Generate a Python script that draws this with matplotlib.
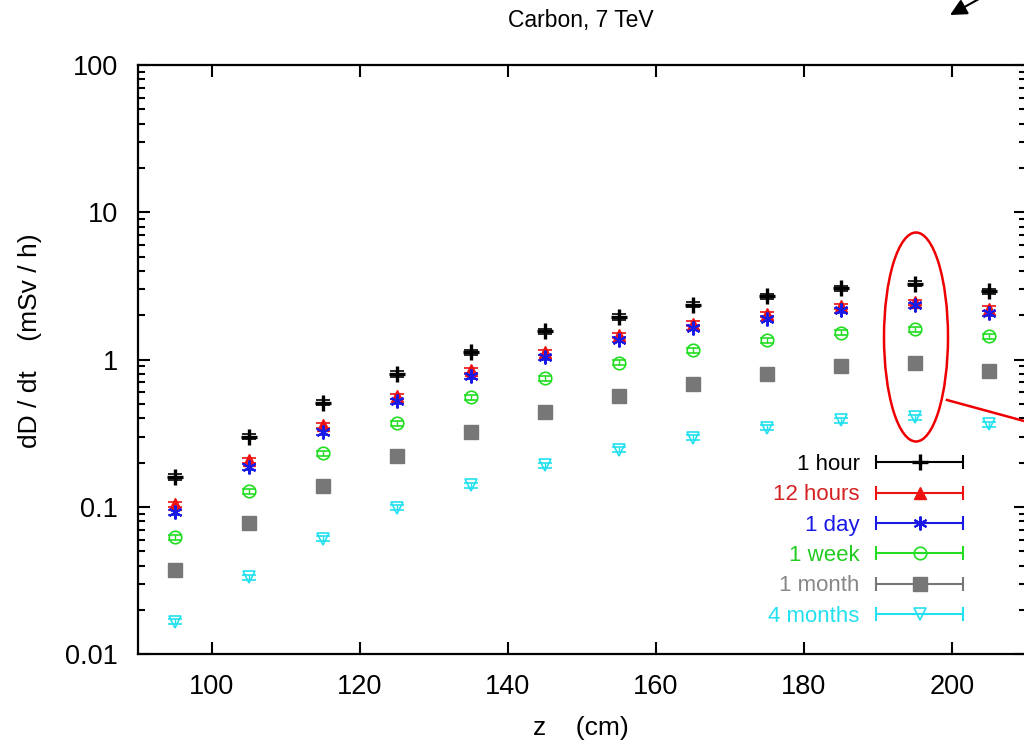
import matplotlib

matplotlib.use("Agg")
import matplotlib.pyplot as plt
import numpy as np
from matplotlib.collections import LineCollection
from matplotlib.container import ErrorbarContainer
from matplotlib.legend_handler import HandlerErrorbar
from matplotlib.lines import Line2D
from matplotlib.patches import Ellipse
from matplotlib.ticker import FixedFormatter, FixedLocator, LogLocator, NullFormatter

plt.rcParams["font.family"] = ["Liberation Sans", "DejaVu Sans"]

# z positions (cm)
z = [95, 105, 115, 125, 135, 145, 155, 165, 175, 185, 195, 205]

# dose rate (mSv/h) for each cooling time
hour_1 = [0.16, 0.30, 0.51, 0.80, 1.12, 1.56, 1.95, 2.36, 2.70, 3.06, 3.28, 2.91]
hours_12 = [0.104, 0.207, 0.358, 0.566, 0.85, 1.12, 1.46, 1.75, 2.03, 2.30, 2.46, 2.22]
day_1 = [0.092, 0.187, 0.323, 0.521, 0.77, 1.04, 1.37, 1.65, 1.90, 2.16, 2.34, 2.07]
week_1 = [0.0625, 0.128, 0.232, 0.371, 0.555, 0.746, 0.954, 1.157, 1.35, 1.52, 1.61, 1.44]
month_1 = [0.0375, 0.0778, 0.139, 0.222, 0.321, 0.438, 0.566, 0.68, 0.795, 0.905, 0.948, 0.837]
months_4 = [0.0166, 0.0334, 0.061, 0.099, 0.140, 0.192, 0.245, 0.295, 0.345, 0.387, 0.408, 0.364]

labels = ["1 hour", "12 hours", "1 day", "1 week", "1 month", "4 months"]
series = [hour_1, hours_12, day_1, week_1, month_1, months_4]
rel_err = 0.04

# marker styles per series: (marker, color, label color, size, edge width, filled)
styles = [
    ("+", "#000000", "#000000", 12, 2.4, True),
    ("^", "#ee1111", "#d42222", 8, 1.0, True),
    ((6, 2, 0), "#1a1ae6", "#1a1ae6", 10, 1.5, True),
    ("o", "#22dd22", "#22cc22", 9, 1.2, False),
    ("s", "#777777", "#888888", 9.5, 1.0, True),
    ("v", "#22e0ee", "#22e0ee", 9, 1.2, False),
]

fig = plt.figure(figsize=(10.24, 7.47), dpi=100)
W, H = 1024, 747
ax = fig.add_axes([137.7 / W, 1 - 654.3 / H, (1026 - 137.7) / W, (654.3 - 65) / H])

handles = []
for vals, (m, c, tc, ms, mew, filled) in zip(series, styles):
    y = np.array(vals)
    ax.errorbar(z, y, yerr=y * rel_err, fmt="none", ecolor=c, elinewidth=1.0,
                capsize=4.7, capthick=1.2, zorder=2)
    ax.plot(z, y, ls="none", marker=m, ms=ms, mew=mew, mec=c,
            mfc=c if filled else "none", zorder=3)
    pl = Line2D([], [], ls="none", marker=m, ms=ms, mew=mew, mec=c,
                mfc=c if filled else "none")
    cap = Line2D([], [], ls="none", marker="|", ms=9.4, mec=c, mew=1.5)
    bar = LineCollection([], colors=c, linewidths=1.5)
    handles.append(ErrorbarContainer((pl, (cap, cap), [bar]), has_xerr=True, has_yerr=False))

ax.set_yscale("log")
ax.set_xlim(90, 210)
ax.set_ylim(0.01, 100)

ax.xaxis.set_major_locator(FixedLocator([100, 120, 140, 160, 180, 200]))
ax.yaxis.set_major_locator(FixedLocator([0.01, 0.1, 1, 10, 100]))
ax.yaxis.set_major_formatter(FixedFormatter(["0.01", "0.1", "1", "10", "100"]))
ax.yaxis.set_minor_locator(LogLocator(base=10, subs=np.arange(2, 10)))
ax.yaxis.set_minor_formatter(NullFormatter())

for s in ax.spines.values():
    s.set_linewidth(1.6)
ax.tick_params(which="both", direction="in", top=True, right=True, width=1.5)
ax.tick_params(which="major", length=8.5, labelsize=19.5)
ax.tick_params(which="minor", length=5)
ax.tick_params(axis="y", pad=14)
ax.tick_params(axis="x", pad=14)

leg = fig.legend(handles, labels, loc="upper right",
                 bbox_to_anchor=(963 / W, 1 - 454 / H), markerfirst=False,
                 frameon=False, fontsize=16, handlelength=3.9, handletextpad=0.75,
                 labelspacing=0.42, borderpad=0, borderaxespad=0,
                 handler_map={ErrorbarContainer: HandlerErrorbar(xerr_size=1.95, numpoints=1)})
for t, st in zip(leg.get_texts(), styles):
    t.set_color(st[2])

fig.text(581 / W, 1 - 21 / H, "Carbon, 7 TeV", ha="center", va="center", fontsize=16.5)
fig.text(581 / W, 1 - 728 / H, "z    (cm)", ha="center", va="center", fontsize=19)
fig.text(30 / W, 1 - 341 / H, "dD / dt    (mSv / h)", ha="center", va="center",
         rotation=90, fontsize=19)

# red highlight around z = 195 cm
fig.patches.append(Ellipse((916 / W, 1 - 337 / H), 64 / W, 209 / H, fill=False,
                           ec="#ee0000", lw=1.8, transform=fig.transFigure))
fig.add_artist(Line2D([947 / W, 1.0], [1 - 400 / H, 1 - 421 / H], color="#ee0000",
                      lw=1.8, transform=fig.transFigure))

fig.add_artist(plt.Annotation("", xy=(950 / W, 1 - 15 / H), xytext=(1.0, 1 + 26 / H),
                              xycoords="figure fraction", textcoords="figure fraction",
                              annotation_clip=False,
                              arrowprops=dict(arrowstyle="-|>", color="black", lw=1.5,
                                              mutation_scale=25, shrinkA=0, shrinkB=0)))

fig.savefig("out.png", dpi=100)
